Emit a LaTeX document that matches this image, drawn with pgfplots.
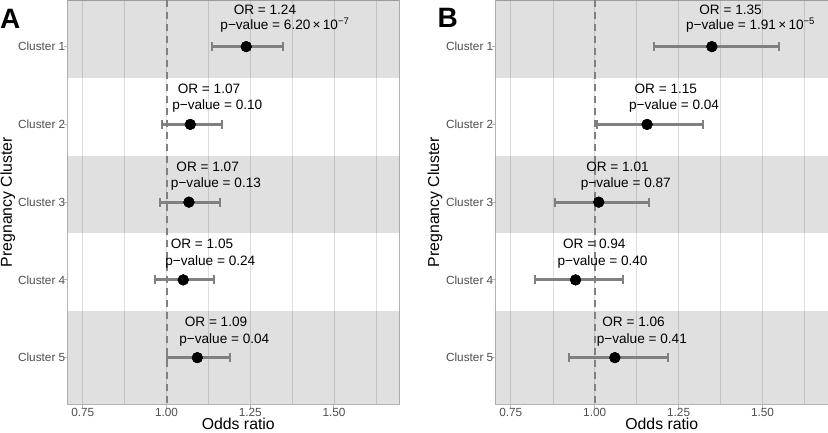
\documentclass[border=0pt]{standalone}
\usepackage{pgfplots}
\pgfplotsset{compat=1.18}
\usepackage{pgfplotstable}
\usepackage{fontspec}
\setmainfont{Liberation Sans}

\definecolor{gridc}{HTML}{DEDEDE}
\definecolor{framec}{HTML}{B3B3B3}
\definecolor{tlab}{HTML}{4D4D4D}
\definecolor{errc}{HTML}{808080}

% Panel A: odds ratio and 95% CI per cluster
\pgfplotstableread{
idx or lo hi
1 1.238 1.137 1.347
2 1.071 0.986 1.166
3 1.067 0.981 1.160
4 1.050 0.967 1.141
5 1.092 1.002 1.190
}\dataA

% Panel B
\pgfplotstableread{
idx or lo hi
1 1.349 1.176 1.548
2 1.156 1.007 1.323
3 1.012 0.882 1.161
4 0.943 0.823 1.083
5 1.060 0.923 1.219
}\dataB

\newcommand\annot{\fontsize{13.6}{16}\selectfont}
\newcommand\hj[1]{\sbox0{#1}\makebox[0pt][l]{\hspace*{-0.2\wd0}\usebox0}}

\pgfplotsset{
  forest/.style={
    scale only axis, anchor=south west,
    height=404.3pt,
    xmin=0.705, xmax=1.695, ymin=0.4, ymax=5.6, y dir=reverse,
    xtick={0.75,1,1.25,1.5}, xticklabels={0.75,1.00,1.25,1.50},
    minor xtick={0.875,1.125,1.375,1.625},
    ytick={1,2,3,4,5},
    yticklabels={Cluster 1,Cluster 2,Cluster 3,Cluster 4,Cluster 5},
    xmajorgrids, xminorgrids,
    major grid style={gridc, line width=0.9pt},
    minor grid style={gridc, line width=0.5pt},
    axis line style={framec, line width=1pt},
    tick style={framec, line width=1pt},
    major tick length=4pt, minor tick length=0pt,
    tick align=outside, xtick pos=bottom, ytick pos=left,
    tick label style={font=\fontsize{11.8}{13}\selectfont, text=tlab},
    xticklabel style={anchor=base, inner sep=0pt, yshift=-8pt},
    yticklabel style={anchor=east, inner sep=0pt, xshift=1.8pt},
    xlabel={Odds ratio}, ylabel={Pregnancy Cluster},
    label style={font=\fontsize{15.8}{19}\selectfont},
    xlabel style={at={(axis description cs:0.5,0)}, anchor=base, yshift=-25.5pt, inner sep=0pt},
    ylabel style={at={(axis description cs:0,0.5)}, anchor=base, inner sep=0pt},
  },
  band/.style={draw=none, fill=black, fill opacity=0.12, forget plot},
  vref/.style={errc, line width=2pt, dash pattern=on 7pt off 5pt, forget plot},
  ebars/.style={only marks, mark=*, mark size=5.3pt, black, forget plot,
    error bars/.cd, x dir=both, x explicit,
    error bar style={draw=errc, line width=3pt},
    error mark=|,
    error mark options={draw=errc, line width=2pt, mark size=4.5pt}},
  pts/.style={only marks, mark=*, mark size=5.3pt, black, forget plot},
}

\begin{document}
\begin{tikzpicture}
\useasboundingbox (0,0) rectangle (828pt,432pt);

% ---------------- Panel A ----------------
\begin{axis}[forest, at={(67.7pt,27.7pt)}, width=331.6pt,
  xlabel style={xshift=4.8pt}, ylabel style={yshift=55.7pt}]
  \addplot[band] coordinates {(0.6,0.4) (1.8,0.4) (1.8,1.4) (0.6,1.4)} -- cycle;
  \addplot[band] coordinates {(0.6,2.4) (1.8,2.4) (1.8,3.4) (0.6,3.4)} -- cycle;
  \addplot[band] coordinates {(0.6,4.4) (1.8,4.4) (1.8,5.6) (0.6,5.6)} -- cycle;
  \addplot[vref] coordinates {(1,0.4) (1,5.6)};
  \addplot[ebars] table[x=or, y=idx,
    x error plus expr=\thisrow{hi}-\thisrow{or},
    x error minus expr=\thisrow{or}-\thisrow{lo}] {\dataA};
  \addplot[pts] table[x=or, y=idx] {\dataA};
  \node[anchor=base, inner sep=0pt, font=\annot, yshift=31.7pt] at (axis cs:1.238,1) {\hj{OR = 1.24}};
  \node[anchor=base, inner sep=0pt, font=\annot, yshift=17pt] at (axis cs:1.238,1) {\hj{p−value = 6.20\,×\,10\textsuperscript{−7}}};
  \node[anchor=base, inner sep=0pt, font=\annot, yshift=31pt] at (axis cs:1.071,2) {\hj{OR = 1.07}};
  \node[anchor=base, inner sep=0pt, font=\annot, yshift=14.5pt] at (axis cs:1.071,2) {\hj{p−value = 0.10}};
  \node[anchor=base, inner sep=0pt, font=\annot, yshift=31pt] at (axis cs:1.067,3) {\hj{OR = 1.07}};
  \node[anchor=base, inner sep=0pt, font=\annot, yshift=14.5pt] at (axis cs:1.067,3) {\hj{p−value = 0.13}};
  \node[anchor=base, inner sep=0pt, font=\annot, yshift=31pt] at (axis cs:1.050,4) {\hj{OR = 1.05}};
  \node[anchor=base, inner sep=0pt, font=\annot, yshift=14.5pt] at (axis cs:1.050,4) {\hj{p−value = 0.24}};
  \node[anchor=base, inner sep=0pt, font=\annot, yshift=31pt] at (axis cs:1.092,5) {\hj{OR = 1.09}};
  \node[anchor=base, inner sep=0pt, font=\annot, yshift=14.5pt] at (axis cs:1.092,5) {\hj{p−value = 0.04}};
\end{axis}

% ---------------- Panel B ----------------
\begin{axis}[forest, at={(495.7pt,27.7pt)}, width=332.3pt,
  ylabel style={yshift=56.7pt}]
  \addplot[band] coordinates {(0.6,0.4) (1.8,0.4) (1.8,1.4) (0.6,1.4)} -- cycle;
  \addplot[band] coordinates {(0.6,2.4) (1.8,2.4) (1.8,3.4) (0.6,3.4)} -- cycle;
  \addplot[band] coordinates {(0.6,4.4) (1.8,4.4) (1.8,5.6) (0.6,5.6)} -- cycle;
  \addplot[vref] coordinates {(1,0.4) (1,5.6)};
  \addplot[ebars] table[x=or, y=idx,
    x error plus expr=\thisrow{hi}-\thisrow{or},
    x error minus expr=\thisrow{or}-\thisrow{lo}] {\dataB};
  \addplot[pts] table[x=or, y=idx] {\dataB};
  \node[anchor=base, inner sep=0pt, font=\annot, yshift=31.7pt] at (axis cs:1.349,1) {\hj{OR = 1.35}};
  \node[anchor=base, inner sep=0pt, font=\annot, yshift=17pt] at (axis cs:1.349,1) {\hj{p−value = 1.91\,×\,10\textsuperscript{−5}}};
  \node[anchor=base, inner sep=0pt, font=\annot, yshift=31pt] at (axis cs:1.156,2) {\hj{OR = 1.15}};
  \node[anchor=base, inner sep=0pt, font=\annot, yshift=14.5pt] at (axis cs:1.156,2) {\hj{p−value = 0.04}};
  \node[anchor=base, inner sep=0pt, font=\annot, yshift=31pt] at (axis cs:1.012,3) {\hj{OR = 1.01}};
  \node[anchor=base, inner sep=0pt, font=\annot, yshift=14.5pt] at (axis cs:1.012,3) {\hj{p−value = 0.87}};
  \node[anchor=base, inner sep=0pt, font=\annot, yshift=31pt] at (axis cs:0.943,4) {\hj{OR = 0.94}};
  \node[anchor=base, inner sep=0pt, font=\annot, yshift=14.5pt] at (axis cs:0.943,4) {\hj{p−value = 0.40}};
  \node[anchor=base, inner sep=0pt, font=\annot, yshift=31pt] at (axis cs:1.060,5) {\hj{OR = 1.06}};
  \node[anchor=base, inner sep=0pt, font=\annot, yshift=14.5pt] at (axis cs:1.060,5) {\hj{p−value = 0.41}};
\end{axis}

% panel tags
\node[anchor=base west, inner sep=0pt, font=\fontsize{28}{32}\selectfont\bfseries] at (0pt,403.7pt) {A};
\node[anchor=base west, inner sep=0pt, font=\fontsize{28}{32}\selectfont\bfseries] at (437.5pt,404pt) {B};
\end{tikzpicture}
\end{document}
